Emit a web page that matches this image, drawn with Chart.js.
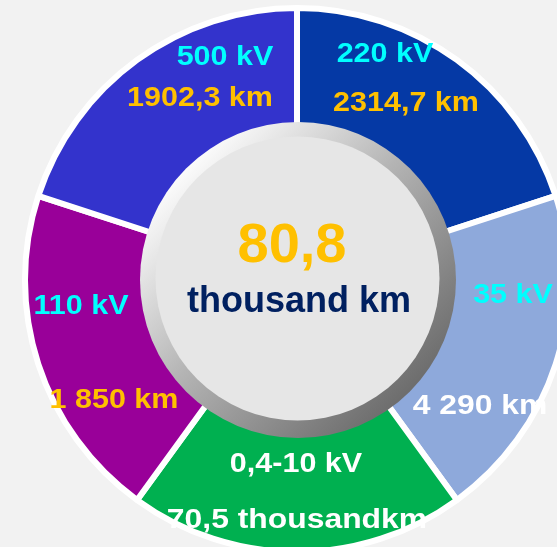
<!DOCTYPE html>
<html>
<head>
<meta charset="utf-8">
<script src="https://cdn.jsdelivr.net/npm/chart.js@4/dist/chart.umd.min.js"></script>
<style>
    html, body { margin: 0; padding: 0; background: #F2F2F2; overflow: hidden; }
    #lineChart { display: block; }
</style>
</head>
<body>
<canvas id="lineChart" width="557" height="547"></canvas>
<script>
"use strict";
// slices are drawn equal in the picture, the km figures are only labels
var voltageLabels = ["220 kV", "35 kV", "0,4-10 kV", "110 kV", "500 kV"];
var lengthLabels = ["2314,7 km", "4 290 km", "70,5 thousandkm", "1 850 km", "1902,3 km"];
var sliceShare = [1, 1, 1, 1, 1];
var totalValue = "80,8";
var totalUnit = "thousand km";

var sliceColors = ["#0539A5", "#8EA9DB", "#00B050", "#990099", "#3333CC"];
var voltageColors = ["#00FFFF", "#00FFFF", "#FFFFFF", "#00FFFF", "#00FFFF"];
var lengthColors = ["#FFC000", "#FFFFFF", "#FFFFFF", "#FFC000", "#FFC000"];
// label spots (x centre, baseline) relative to the doughnut centre
var voltagePos = [[88, -218], [216, 23], [-1, 192], [-216, 34], [-72, -215]];
var lengthPos = [[109, -169], [183, 134], [0, 248], [-183, 128], [-97, -174]];
var lengthStretch = [1.13, 1.18, 1.18, 1.13, 1.13];

function wideText(ctx, text, x, y, color, stretch) {
    ctx.save();
    ctx.translate(x, y);
    ctx.scale(stretch, 1);
    ctx.fillStyle = color;
    ctx.textAlign = "center";
    ctx.textBaseline = "alphabetic";
    ctx.fillText(text, 0, 0);
    ctx.restore();
}

var centerPlugin = {
    id: "centerDisk",
    afterDatasetsDraw: function (chart) {
        var ctx = chart.ctx;
        var meta = chart.getDatasetMeta(0);
        var cx = meta.data[0].x;
        var cy = meta.data[0].y;

        // segment labels
        ctx.font = "bold 27px 'Liberation Sans', Arial, sans-serif";
        meta.data.forEach(function (element, i) {
            wideText(ctx, voltageLabels[i], cx + voltagePos[i][0], cy + voltagePos[i][1], voltageColors[i], 1.13);
            wideText(ctx, lengthLabels[i], cx + lengthPos[i][0], cy + lengthPos[i][1], lengthColors[i], lengthStretch[i]);
        });

        // metal ring
        var bx = cx + 1, by = cy;
        var grad = ctx.createLinearGradient(bx - 110, by - 110, bx + 110, by + 110);
        grad.addColorStop(0, "#FAFAFA");
        grad.addColorStop(0.45, "#B4B4B4");
        grad.addColorStop(1, "#6E6E6E");
        ctx.save();
        ctx.beginPath();
        ctx.arc(bx, by, 158, 0, Math.PI * 2);
        ctx.fillStyle = grad;
        ctx.fill();

        // inner disk
        ctx.beginPath();
        ctx.arc(cx + 0.5, cy - 1.5, 142, 0, Math.PI * 2);
        ctx.fillStyle = "#E6E6E6";
        ctx.fill();
        ctx.restore();

        ctx.save();
        ctx.textAlign = "center";
        ctx.textBaseline = "alphabetic";
        ctx.font = "bold 56px 'Liberation Sans', Arial, sans-serif";
        ctx.fillStyle = "#FFC000";
        ctx.fillText(totalValue, cx - 5, cy - 18);
        ctx.font = "bold 36px 'Liberation Sans', Arial, sans-serif";
        ctx.fillStyle = "#002060";
        ctx.fillText(totalUnit, cx + 2, cy + 32);
        ctx.restore();
    }
};

function drawChart() {
    var ctx = document.getElementById("lineChart").getContext("2d");
    var myDoughnutChart = new Chart(ctx, {
        type: "doughnut",
        data: {
            labels: voltageLabels,
            datasets: [{
                data: sliceShare,
                backgroundColor: sliceColors,
                borderColor: "#FFFFFF",
                borderWidth: 6
            }]
        },
        options: {
            responsive: false,
            animation: false,
            radius: 272,
            cutout: "55%",
            layout: {
                padding: { left: 37, right: 0, top: 13, bottom: 0 }
            },
            plugins: {
                legend: { display: false },
                tooltip: { enabled: false }
            }
        },
        plugins: [centerPlugin]
    });
}
drawChart();
</script>
</body>
</html>
